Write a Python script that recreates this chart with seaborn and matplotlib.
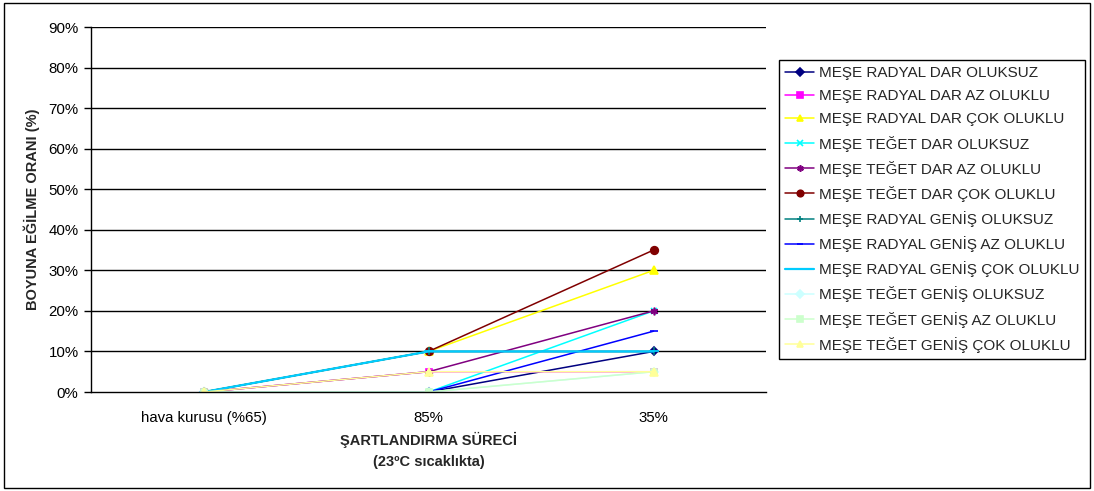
import numpy as np
import pandas as pd
import matplotlib
matplotlib.use("Agg")
import matplotlib.pyplot as plt
from matplotlib.patches import Rectangle
from matplotlib.ticker import FixedLocator
import seaborn as sns

# Conditioning stages (x categories)
conditions = ["hava kurusu (%65)", "85%", "35%"]

# Longitudinal bending ratio (%) per specimen group
meşe_radyal_dar_oluksuz = [0, 0, 10]
meşe_radyal_dar_az_oluklu = [0, 5, 5]
meşe_radyal_dar_cok_oluklu = [0, 10, 30]
meşe_teget_dar_oluksuz = [0, 0, 20]
meşe_teget_dar_az_oluklu = [0, 5, 20]
meşe_teget_dar_cok_oluklu = [0, 10, 35]
meşe_radyal_genis_oluksuz = [0, 10, 10]
meşe_radyal_genis_az_oluklu = [0, 0, 15]
meşe_radyal_genis_cok_oluklu = [0, 10, 10]
meşe_teget_genis_oluksuz = [0, 0, 5]
meşe_teget_genis_az_oluklu = [0, 0, 5]
meşe_teget_genis_cok_oluklu = [0, 5, 5]

series_names = [
    "MEŞE RADYAL DAR OLUKSUZ",
    "MEŞE RADYAL DAR AZ OLUKLU",
    "MEŞE RADYAL DAR ÇOK OLUKLU",
    "MEŞE TEĞET DAR OLUKSUZ",
    "MEŞE TEĞET DAR AZ OLUKLU",
    "MEŞE TEĞET DAR ÇOK OLUKLU",
    "MEŞE RADYAL GENİŞ OLUKSUZ",
    "MEŞE RADYAL GENİŞ AZ OLUKLU",
    "MEŞE RADYAL GENİŞ ÇOK OLUKLU",
    "MEŞE TEĞET GENİŞ OLUKSUZ",
    "MEŞE TEĞET GENİŞ AZ OLUKLU",
    "MEŞE TEĞET GENİŞ ÇOK OLUKLU",
]
series_values = [
    meşe_radyal_dar_oluksuz, meşe_radyal_dar_az_oluklu, meşe_radyal_dar_cok_oluklu,
    meşe_teget_dar_oluksuz, meşe_teget_dar_az_oluklu, meşe_teget_dar_cok_oluklu,
    meşe_radyal_genis_oluksuz, meşe_radyal_genis_az_oluklu, meşe_radyal_genis_cok_oluklu,
    meşe_teget_genis_oluksuz, meşe_teget_genis_az_oluklu, meşe_teget_genis_cok_oluklu,
]

colors = ["#000080", "#FF00FF", "#FFFF00", "#00FFFF", "#800080", "#800000",
          "#008080", "#0000FF", "#00CCFF", "#CCFFFF", "#CCFFCC", "#FFFF99"]
markers = ["D", "s", "^", "x", (6, 2, 0), "o", "+", "_", "_", "D", "s", "^"]
msizes = [4.5, 4.5, 5.5, 4.5, 5.5, 5.5, 5.5, 5.5, 7, 4.5, 4.5, 5.5]
lwidths = [1.1, 1.1, 1.1, 1.1, 1.1, 1.1, 1.1, 1.1, 1.6, 1.1, 1.1, 1.1]

rows = []
for name, vals in zip(series_names, series_values):
    for i, v in enumerate(vals):
        rows.append({"seri": name, "x": i, "y": v})
df = pd.DataFrame(rows)

sns.set_theme(style="white")
plt.rcParams["font.family"] = ["Liberation Sans", "DejaVu Sans"]

fig = plt.figure(figsize=(10.94, 4.91), dpi=100)
ax = fig.add_axes([0.0832, 0.2016, 0.6170, 0.7434])

for name, c, m, ms, lw in zip(series_names, colors, markers, msizes, lwidths):
    sub = df[df["seri"] == name]
    sns.lineplot(data=sub, x="x", y="y", ax=ax, color=c, marker=m, markersize=ms,
                 markeredgecolor=c, markerfacecolor=c, markeredgewidth=1.2,
                 linewidth=lw, label=name, legend=False)

ax.set_xlim(-0.5, 2.5)
ax.set_ylim(0, 90)
ax.set_yticks(np.arange(0, 91, 10))
ax.set_yticklabels([f"{v}%" for v in range(0, 91, 10)], fontsize=10.8, color="black")
ax.set_xticks(range(len(conditions)))
ax.set_xticklabels(conditions, fontsize=10.8, color="black")
ax.xaxis.set_minor_locator(FixedLocator([0.5, 1.5, 2.5]))
ax.tick_params(axis="x", which="major", length=0, pad=14)
ax.tick_params(axis="x", which="minor", length=5, width=1, color="black", direction="out")
ax.tick_params(axis="y", which="major", length=5, width=1, color="black", direction="out", left=True, pad=4)

for v in range(10, 91, 10):
    ax.axhline(v, color="#000000", linewidth=1.0, zorder=0.5)

for s in ["top", "right"]:
    ax.spines[s].set_visible(False)
for s in ["left", "bottom"]:
    ax.spines[s].set_color("black")
    ax.spines[s].set_linewidth(1.0)

ax.set_xlabel("ŞARTLANDIRMA SÜRECİ\n(23ºC sıcaklıkta)", fontsize=10.5, fontweight="bold",
              labelpad=5, linespacing=1.6)
ax.set_ylabel("BOYUNA EĞİLME ORANI (%)", fontsize=10.5, fontweight="bold", labelpad=6)

handles, labels = ax.get_legend_handles_labels()
leg = fig.legend(handles, labels, loc="upper left", bbox_to_anchor=(0.712, 0.878),
                 bbox_transform=fig.transFigure, fontsize=11, frameon=True, fancybox=False,
                 edgecolor="black", framealpha=1, labelspacing=0.6, handlelength=1.9,
                 handletextpad=0.3, borderpad=0.4, borderaxespad=0, markerscale=0.85)
leg.get_frame().set_linewidth(1.0)

fig.patches.append(Rectangle((0.004, 0.006), 0.992, 0.988, transform=fig.transFigure,
                             fill=False, edgecolor="black", linewidth=1.0))

fig.savefig("out.png", dpi=100)
